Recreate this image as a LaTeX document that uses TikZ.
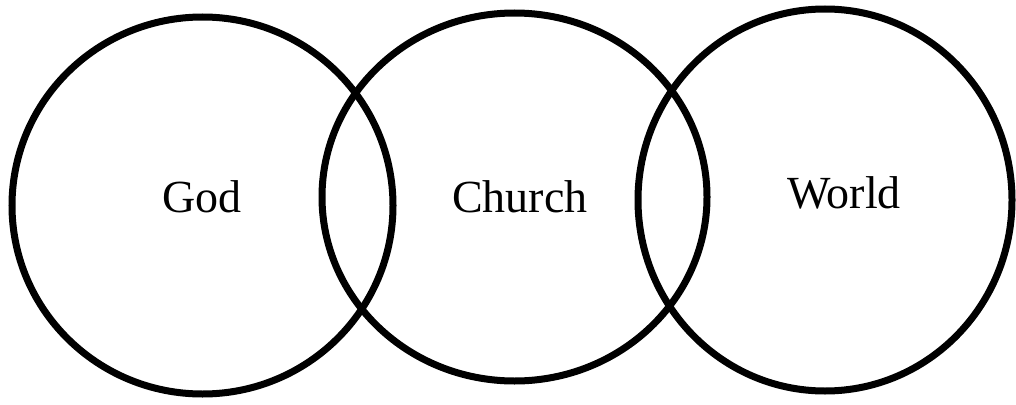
\documentclass[tikz,border=0pt]{standalone}
\usepackage{fontspec}
\setmainfont{Liberation Serif}
\begin{document}
\begin{tikzpicture}[x=1pt,y=-1pt,
  ring/.style={draw=black,line width=7pt},
  lbl/.style={font=\fontsize{46}{50}\selectfont,anchor=base,inner sep=0pt}]
\useasboundingbox (0,0) rectangle (1016,404);
\draw[ring] (202.5,205.5) ellipse [x radius=190.5, y radius=188.5];
\draw[ring] (514.5,197) ellipse [x radius=192.5, y radius=184];
\draw[ring] (825,200) ellipse [x radius=187, y radius=191];
\node[lbl] (god) at (202,212) {God};
\node[lbl] (church) at (520,212) {Church};
\node[lbl] (world) at (844,208) {World};
\end{tikzpicture}
\end{document}
